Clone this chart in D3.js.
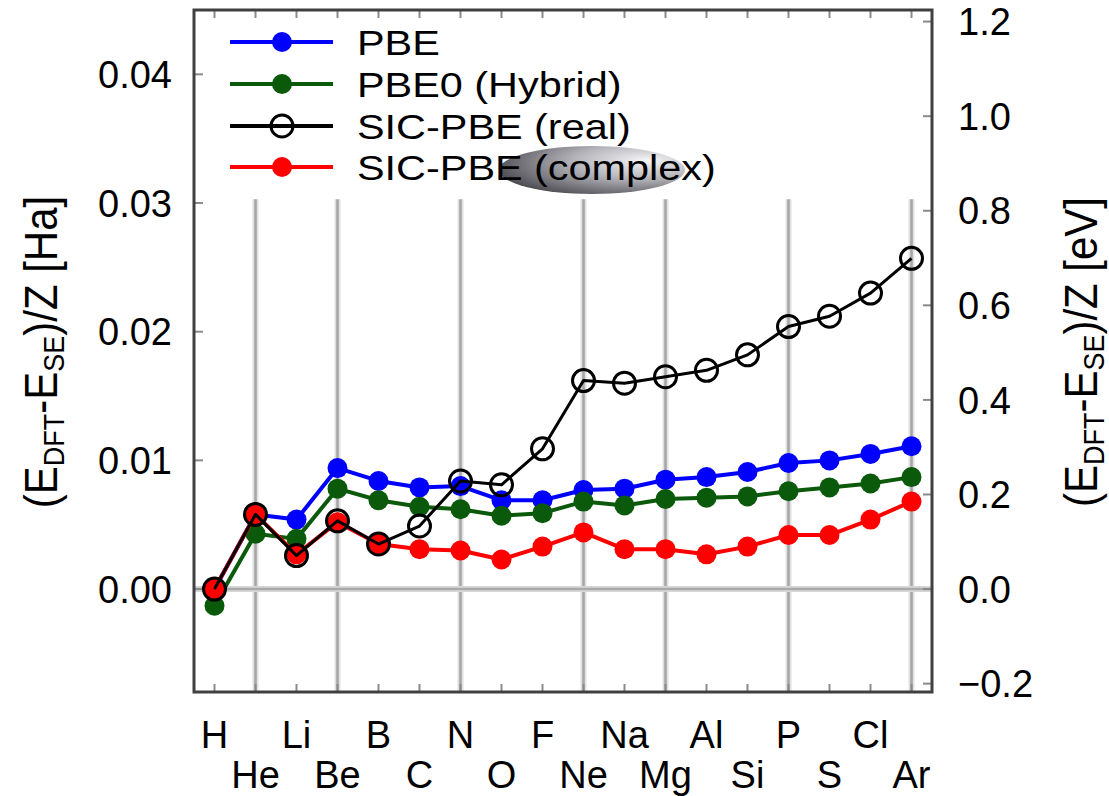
<!DOCTYPE html>
<html><head><meta charset="utf-8">
<script src="https://cdn.jsdelivr.net/npm/d3@7"></script>
<style>
html,body{margin:0;padding:0;background:#fff;}
text{font-family:"Liberation Sans",Arial,Helvetica,sans-serif;fill:#000;}
</style></head>
<body><div id="chart"></div>
<script>
const elements = ["H","He","Li","Be","B","C","N","O","F","Ne","Na","Mg","Al","Si","P","S","Cl","Ar"];
const pbe     = [0.0, 0.0058, 0.0054, 0.0094, 0.0084, 0.0079, 0.0080, 0.0069, 0.0069, 0.0077, 0.0078, 0.0085, 0.0087, 0.0091, 0.0098, 0.0100, 0.0105, 0.0111];
const pbe0    = [-0.0013, 0.0043, 0.0039, 0.0078, 0.0069, 0.0064, 0.0062, 0.0057, 0.0059, 0.0068, 0.0065, 0.0070, 0.0071, 0.0072, 0.0076, 0.0079, 0.0082, 0.0087];
const sicReal = [0.0, 0.0058, 0.0026, 0.0053, 0.0035, 0.0049, 0.0084, 0.0081, 0.0109, 0.0162, 0.0160, 0.0165, 0.0170, 0.0182, 0.0204, 0.0212, 0.0230, 0.0257];
const sicCplx = [0.0, 0.0058, 0.0027, 0.0052, 0.0035, 0.0031, 0.0030, 0.0023, 0.0033, 0.0044, 0.0031, 0.0031, 0.0027, 0.0033, 0.0042, 0.0042, 0.0054, 0.0068];
const leftTicks = [0.00, 0.01, 0.02, 0.03, 0.04];
const rightTicks = [-0.2, 0.0, 0.2, 0.4, 0.6, 0.8, 1.0, 1.2];
const gridElements = ["He","Be","N","Ne","Mg","P","Ar"];
const seriesNames = ["PBE","PBE0 (Hybrid)","SIC-PBE (real)","SIC-PBE (complex)"];
const HA2EV = 27.2114;

const W = 1109, H = 796;
const svg = d3.select("#chart").append("svg").attr("width", W).attr("height", H);
const L = 194, R = 932, T = 10, B = 692;
const x = d3.scaleLinear().domain([0.5, 18.5]).range([L, R]);
const y = d3.scaleLinear().domain([-0.008, 0.045]).range([B, T]);
const y2 = d3.scaleLinear().domain([-0.008*HA2EV, 0.045*HA2EV]).range([B, T]);

const defs = svg.append("defs");
const rg = defs.append("radialGradient").attr("id","blob").attr("cx","0.72").attr("cy","0.35").attr("r","0.8").attr("fx","0.8").attr("fy","0.3");
rg.append("stop").attr("offset","0").attr("stop-color","#f6f6f8");
rg.append("stop").attr("offset","0.45").attr("stop-color","#b4b4ba");
rg.append("stop").attr("offset","1").attr("stop-color","#44444a");

// grid lines
const gridTop = y(0.0303);
gridElements.forEach(e => {
  const Z = elements.indexOf(e) + 1;
  svg.append("line").attr("x1", x(Z)).attr("x2", x(Z)).attr("y1", gridTop).attr("y2", B)
    .attr("stroke", "#e0e0e0").attr("stroke-width", 6);
  svg.append("line").attr("x1", x(Z)).attr("x2", x(Z)).attr("y1", gridTop).attr("y2", B)
    .attr("stroke", "#a6a6a6").attr("stroke-width", 2.5);
});
svg.append("line").attr("x1", L).attr("x2", R).attr("y1", y(0)).attr("y2", y(0))
  .attr("stroke", "#d8d8d8").attr("stroke-width", 6);
svg.append("line").attr("x1", L).attr("x2", R).attr("y1", y(0)).attr("y2", y(0))
  .attr("stroke", "#aaaaaa").attr("stroke-width", 2.5);

// ticks
const tickColor = "#8a8a8a";
elements.forEach((e, i) => {
  const Z = i + 1;
  svg.append("line").attr("x1", x(Z)).attr("x2", x(Z)).attr("y1", B).attr("y2", B - 8).attr("stroke", tickColor).attr("stroke-width", 2);
  svg.append("line").attr("x1", x(Z)).attr("x2", x(Z)).attr("y1", T).attr("y2", T + 8).attr("stroke", tickColor).attr("stroke-width", 2);
  svg.append("text").attr("x", x(Z)).attr("y", Z % 2 === 1 ? 748 : 788)
    .attr("text-anchor", "middle").attr("font-size", 38).text(e);
});
leftTicks.forEach(v => {
  svg.append("line").attr("x1", L).attr("x2", L + 9).attr("y1", y(v)).attr("y2", y(v)).attr("stroke", tickColor).attr("stroke-width", 2);
  svg.append("text").attr("x", 172).attr("y", y(v)).attr("dy", "0.36em")
    .attr("text-anchor", "end").attr("font-size", 38).attr("fill", "#111").text(d3.format(".2f")(v));
});
rightTicks.forEach(v => {
  svg.append("line").attr("x1", R).attr("x2", R - 9).attr("y1", y2(v)).attr("y2", y2(v)).attr("stroke", tickColor).attr("stroke-width", 2);
  svg.append("text").attr("x", 958).attr("y", y2(v)).attr("dy", "0.36em")
    .attr("text-anchor", "start").attr("font-size", 38).attr("fill", "#111").text(d3.format(".1f")(v));
});

// frame
svg.append("rect").attr("x", L).attr("y", T).attr("width", R - L).attr("height", B - T)
  .attr("fill", "none").attr("stroke", "#404040").attr("stroke-width", 3);

// axis titles
function axisTitle(tx, unit) {
  const g = svg.append("g").attr("transform", `translate(${tx},352) rotate(-90) scale(1,1.1)`);
  const t = g.append("text").attr("text-anchor", "middle").attr("font-size", 42).attr("fill", "#333");
  t.append("tspan").text("(E");
  t.append("tspan").attr("font-size", 27).attr("dy", 6).text("DFT");
  t.append("tspan").attr("dy", -6).text("-E");
  t.append("tspan").attr("font-size", 27).attr("dy", 6).text("SE");
  t.append("tspan").attr("dy", -6).text(")/Z [" + unit + "]");
}
axisTitle(57, "Ha");
axisTitle(1097, "eV");

// series
const line = d3.line().x((d, i) => x(i + 1)).y(d => y(d));
const series = [
  {vals: pbe, color: "#0000ff", filled: true},
  {vals: pbe0, color: "#0b5a0b", filled: true},
  {vals: sicCplx, color: "#ff0000", filled: true},
  {vals: sicReal, color: "#000000", filled: false}
];
series.forEach(s => {
  svg.append("path").datum(s.vals).attr("d", line).attr("fill", "none")
    .attr("stroke", s.color).attr("stroke-width", s.filled ? 4 : 3).attr("stroke-linejoin", "round");
  svg.selectAll(null).data(s.vals).enter().append("circle")
    .attr("cx", (d, i) => x(i + 1)).attr("cy", d => y(d))
    .attr("r", s.filled ? 10 : 11)
    .attr("fill", s.filled ? s.color : "none")
    .attr("stroke", s.filled ? "none" : s.color).attr("stroke-width", 3);
});

// legend
const legColors = ["#0000ff", "#0b5a0b", "#000000", "#ff0000"];
const legY = [42, 84, 126, 167];
legColors.forEach((c, i) => {
  svg.append("line").attr("x1", 230).attr("x2", 333).attr("y1", legY[i]).attr("y2", legY[i])
    .attr("stroke", c).attr("stroke-width", 4);
  if (i === 2) {
    svg.append("circle").attr("cx", 282).attr("cy", legY[i]).attr("r", 11).attr("fill", "none").attr("stroke", c).attr("stroke-width", 3);
  } else {
    svg.append("circle").attr("cx", 282).attr("cy", legY[i]).attr("r", 10).attr("fill", c);
  }
});
svg.append("ellipse").attr("cx", 592).attr("cy", 170).attr("rx", 93).attr("ry", 24).attr("fill", "url(#blob)");
seriesNames.forEach((n, i) => {
  svg.append("text").attr("transform", `translate(357,${legY[i]}) scale(1.15,1)`).attr("dy", "0.36em")
    .attr("font-size", 36).text(n);
});
</script></body></html>
